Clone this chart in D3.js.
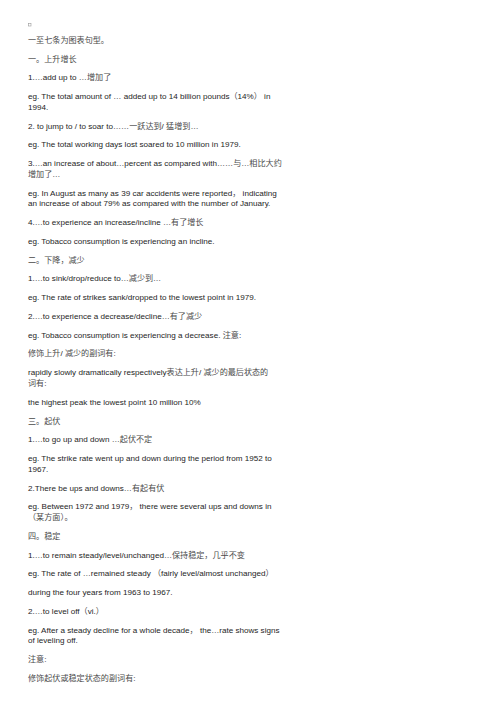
<!DOCTYPE html>
<html>
<head>
<meta charset="utf-8">
<script src="https://cdn.jsdelivr.net/npm/d3@7"></script>
<style>
  body { margin: 0; background: #fff; }
  svg text { font-family: "Liberation Sans", "Noto Sans CJK SC", sans-serif; font-size: 8.1px; fill: #1e1e1e; }
  svg tspan.cjk { fill: #4a4a4a; }
</style>
</head>
<body>
<svg id="page" width="504" height="713"></svg>
<script>
// paragraphs of the page, each one a list of its wrapped lines
const intro = [
  ["一至七条为图表句型。"]
];
const riseLines = [
  ["一。上升增长"],
  ["1.…add up to …增加了"],
  ["eg. The total amount of … added up to 14 billion pounds（14%） in", "1994."],
  ["2. to jump to / to soar to……一跃达到/ 猛增到…"],
  ["eg. The total working days lost soared to 10 million in 1979."],
  ["3.…an increase of about…percent as compared with……与…相比大约", "增加了…"],
  ["eg. In August as many as 39 car accidents were reported， indicating", "an increase of about 79% as compared with the number of January."],
  ["4.…to experience an increase/incline …有了增长"],
  ["eg. Tobacco consumption is experiencing an incline."]
];
const fallLines = [
  ["二。下降，减少"],
  ["1.…to sink/drop/reduce to…减少到…"],
  ["eg. The rate of strikes sank/dropped to the lowest point in 1979."],
  ["2.…to experience a decrease/decline…有了减少"],
  ["eg. Tobacco consumption is experiencing a decrease. 注意:"],
  ["修饰上升/ 减少的副词有:"],
  ["rapidly slowly dramatically respectively表达上升/ 减少的最后状态的", "词有:"],
  ["the highest peak the lowest point 10 million 10%"]
];
const fluctLines = [
  ["三。起伏"],
  ["1.…to go up and down …起伏不定"],
  ["eg. The strike rate went up and down during the period from 1952 to", "1967."],
  ["2.There be ups and downs…有起有伏"],
  ["eg. Between 1972 and 1979， there were several ups and downs in", "（某方面）。"]
];
const steadyLines = [
  ["四。稳定"],
  ["1.…to remain steady/level/unchanged…保持稳定，几乎不变"],
  ["eg. The rate of …remained steady （fairly level/almost unchanged）"],
  ["during the four years from 1963 to 1967."],
  ["2.…to level off（vi.）"],
  ["eg. After a steady decline for a whole decade， the…rate shows signs", "of leveling off."],
  ["注意:"],
  ["修饰起伏或稳定状态的副词有:"]
];

const paragraphs = [].concat(intro, riseLines, fallLines, fluctLines, steadyLines);

const svg = d3.select("#page");
const marginLeft = 28, firstY = 40, paraGap = 18.75, lineGap = 10.8;

// flatten into rows with paragraph index and number of wraps before
let rows = [], wraps = 0;
paragraphs.forEach((p, i) => {
  p.forEach((line, j) => {
    rows.push({text: line, para: i, wrap: wraps + j});
  });
  wraps += p.length - 1;
});

const yPara = d3.scaleLinear().domain([0, 1]).range([firstY, firstY + paraGap]);

// little marker square at the top
svg.append("rect").attr("x", marginLeft + 0.5).attr("y", 23.5).attr("width", 2.5).attr("height", 2.5)
  .attr("fill", "none").attr("stroke", "#999").attr("stroke-width", 0.6);

// split a line into latin / cjk runs so chinese can be a bit lighter
const cjkRe = /([\u3000-\u303f\u4e00-\u9fff\uff00-\uffef]+)/;
function runs(s){
  return s.split(cjkRe).filter(t => t.length).map(t => ({t: t, cjk: cjkRe.test(t)}));
}

let texts = svg.selectAll("text.row").data(rows).enter().append("text")
  .attr("class", "row")
  .attr("x", marginLeft)
  .attr("y", d => yPara(d.para) + d.wrap * lineGap)
  .attr("dy", "0.35em");

texts.selectAll("tspan").data(d => runs(d.text)).enter().append("tspan")
  .attr("class", d => d.cjk ? "cjk" : null)
  .text(d => d.t);
</script>
</body>
</html>
